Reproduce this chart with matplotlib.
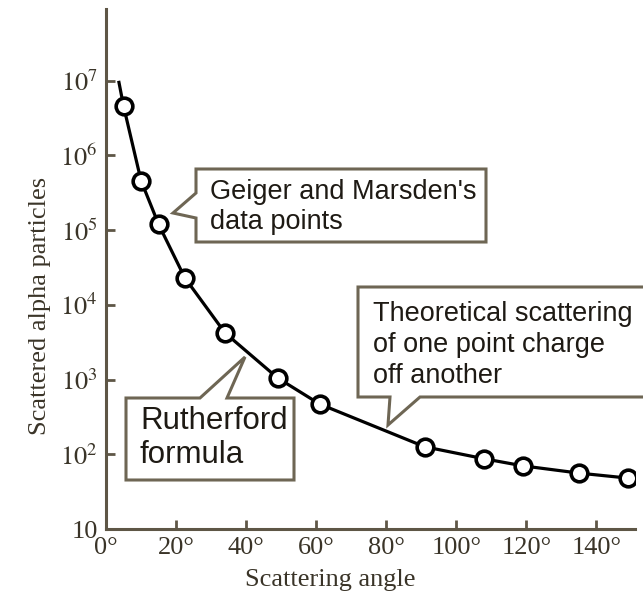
import numpy as np
import matplotlib.pyplot as plt
from matplotlib.patches import Polygon

# Geiger and Marsden data points (angle in degrees, scattered count)
angles = [5, 10, 15, 22.5, 34, 49, 61, 91, 108, 119, 135, 149]
counts = [4.6e6, 4.6e5, 1.2e5, 2.3e4, 4.2e3, 1.05e3, 470, 126, 87, 70, 56, 48]

# Rutherford formula curve
curve_angle = [3.7, 5, 10, 15, 22.5, 34, 49, 61, 91, 108, 119, 135, 149]
curve_count = [9.5e6, 4.6e6, 4.6e5, 1.2e5, 2.3e4, 4.2e3, 1.05e3, 470, 126, 87, 70, 56, 48]

xticks = [0, 20, 40, 60, 80, 100, 120, 140]
xticklabels = ["0°", "20°", "40°", "60°", "80°", "100°", "120°", "140°"]
yticks = [10, 1e2, 1e3, 1e4, 1e5, 1e6, 1e7]
yticklabels = ["10", r"$10^2$", r"$10^3$", r"$10^4$", r"$10^5$", r"$10^6$", r"$10^7$"]

AXC = "#5e5646"
TXT = "#3a3428"
BOX = "#6e6654"
W, H = 643, 598

plt.rcParams['mathtext.fontset'] = 'stix'
plt.rcParams['font.family'] = 'Liberation Serif'

fig = plt.figure(figsize=(W / 100, H / 100), dpi=100)
ax = fig.add_axes([106 / W, 1 - 529 / H, (635 - 106) / W, (529 - 9) / H])


def px(x, y):
    return (x / W, 1 - y / H)


ax.plot(curve_angle, curve_count, color="black", lw=2.3, zorder=3)
ax.plot(angles, counts, 'o', color="black", mfc="white", ms=12, mew=2.6, zorder=4)

ax.set_yscale("log")
ax.set_xlim(0, 151)
ax.set_ylim(10, 10 ** 7.96)
ax.minorticks_off()
ax.set_xticks(xticks)
ax.set_xticklabels(xticklabels)
ax.set_yticks(yticks)
ax.set_yticklabels(yticklabels)

for s in ["top", "right"]:
    ax.spines[s].set_visible(False)
for s in ["left", "bottom"]:
    ax.spines[s].set_color(AXC)
    ax.spines[s].set_linewidth(2.2)
ax.tick_params(direction="in", length=6.5, width=2, color=AXC, labelsize=19,
               labelcolor=TXT, pad=6)

ax.set_xlabel("Scattering angle", fontsize=19, color=TXT)
ax.set_ylabel("Scattered alpha particles", fontsize=19, color=TXT)
ax.xaxis.set_label_coords((330 - 106) / 529, (529 - 569) / 520)
ax.yaxis.set_label_coords((51 - 106) / 529, (529 - 306) / 520)

# callout boxes
boxes = [
    [(196, 169), (486, 169), (486, 242), (196, 242), (196, 218), (173, 213), (196, 193)],
    [(126, 398), (200, 398), (245, 357), (227, 398), (294, 398), (294, 480), (126, 480)],
    [(358, 287), (660, 287), (660, 397), (420, 397), (388, 425), (390, 397), (358, 397)],
]
for b in boxes:
    poly = Polygon([px(x, y) for x, y in b], closed=True, transform=fig.transFigure,
                   facecolor="white", edgecolor=BOX, lw=2.2, clip_on=False, zorder=5)
    fig.patches.append(poly)

sans = "Liberation Sans"
fig.text(*px(210, 207), "Geiger and Marsden's\ndata points", family=sans, fontsize=19.5,
         color="#1e1a14", va="center", ha="left", linespacing=1.2, zorder=6)
fig.text(*px(140, 438), "Rutherford\nformula", family=sans, fontsize=22.5,
         color="#1e1a14", va="center", ha="left", linespacing=1.15, zorder=6)
fig.text(*px(373, 345), "Theoretical scattering\nof one point charge\noff another", family=sans,
         fontsize=19.5, color="#1e1a14", va="center", ha="left", linespacing=1.25, zorder=6)

fig.savefig("out.png", dpi=100)
